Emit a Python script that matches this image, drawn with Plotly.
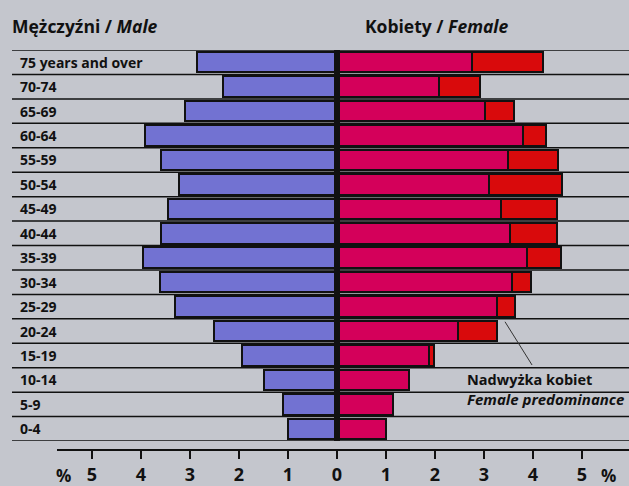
import plotly.graph_objects as go

# ---- data (percent of population) ----
age_groups = ["0-4", "5-9", "10-14", "15-19", "20-24", "25-29", "30-34", "35-39",
              "40-44", "45-49", "50-54", "55-59", "60-64", "65-69", "70-74",
              "75 years and over"]
male = [1.00, 1.10, 1.49, 1.94, 2.51, 3.31, 3.61, 3.96,
        3.59, 3.45, 3.22, 3.60, 3.92, 3.10, 2.33, 2.86]
female = [1.00, 1.14, 1.46, 1.98, 3.26, 3.64, 3.95, 4.57,
          4.49, 4.48, 4.59, 4.51, 4.27, 3.61, 2.92, 4.20]
female_excess = [0.00, 0.00, 0.00, 0.10, 0.79, 0.38, 0.38, 0.70,
                 0.95, 1.14, 1.49, 1.02, 0.48, 0.59, 0.84, 1.45]
x_ticks = [-5, -4, -3, -2, -1, 0, 1, 2, 3, 4, 5]
x_tick_text = ["5", "4", "3", "2", "1", "0", "1", "2", "3", "4", "5"]

female_base = [round(f - e, 2) for f, e in zip(female, female_excess)]
rows = list(range(len(age_groups)))

BG = "#c4c6cd"
BLUE = "#7272d2"
PINK = "#d4005a"
RED = "#d90a0c"
INK = "#111111"
FONT = "Open Sans"

fig = go.Figure()
fig.add_trace(go.Bar(y=rows, x=[-m for m in male], base=0, orientation="h",
                     width=0.84, marker=dict(color=BLUE, line=dict(color=INK, width=2)),
                     showlegend=False, hoverinfo="skip"))
fig.add_trace(go.Bar(y=rows, x=female_base, base=0, orientation="h",
                     width=0.84, marker=dict(color=PINK, line=dict(color=INK, width=2)),
                     showlegend=False, hoverinfo="skip"))
fig.add_trace(go.Bar(y=rows, x=female_excess, base=female_base, orientation="h",
                     width=0.84, marker=dict(color=RED, line=dict(color=INK, width=2)),
                     showlegend=False, hoverinfo="skip"))

W, H = 629, 486
px_per_unit = 49.0
zero_px = 337.0
x_range = [-zero_px / px_per_unit, (W - zero_px) / px_per_unit]

# row separator lines
for k in range(len(age_groups) + 1):
    fig.add_shape(type="line", xref="x", yref="y",
                  x0=(12 - zero_px) / px_per_unit, x1=x_range[1],
                  y0=k - 0.5, y1=k - 0.5, line=dict(color=INK, width=1.5), layer="below")

# centre line
fig.add_shape(type="line", xref="x", yref="y", x0=0, x1=0, y0=-0.5, y1=len(age_groups) - 0.5,
              line=dict(color=INK, width=6), layer="above")

# bottom axis line
fig.add_shape(type="line", xref="x", yref="paper", x0=(57 - zero_px) / px_per_unit, x1=x_range[1],
              y0=0, y1=0, line=dict(color=INK, width=2))

fig.update_layout(
    width=W, height=H,
    margin=dict(l=0, r=0, t=50, b=34),
    paper_bgcolor=BG, plot_bgcolor=BG,
    barmode="overlay", bargap=0,
    font=dict(family=FONT, color=INK),
    xaxis=dict(range=x_range, tickvals=x_ticks, ticktext=x_tick_text,
               ticks="outside", ticklen=8, tickwidth=2, tickcolor=INK,
               showgrid=False, zeroline=False, showline=False,
               anchor="free", position=0,
               tickfont=dict(family=FONT, size=18, color=INK, weight="bold")),
    yaxis=dict(range=[-0.5, len(age_groups) - 0.5], domain=[0.0224, 1],
               showticklabels=False, ticks="",
               showgrid=False, zeroline=False, showline=False),
)

annotations = [
    dict(text="<b>Mężczyźni / <i>Male</i></b>", xref="paper", yref="paper",
         x=10 / W, y=1, yshift=24, xanchor="left", yanchor="middle",
         showarrow=False, font=dict(size=17.5, family=FONT, color=INK)),
    dict(text="<b>Kobiety / <i>Female</i></b>", xref="paper", yref="paper",
         x=363 / W, y=1, yshift=24, xanchor="left", yanchor="middle",
         showarrow=False, font=dict(size=17.5, family=FONT, color=INK)),
    dict(text="<b>%</b>", xref="x", yref="paper", x=(63 - zero_px) / px_per_unit, y=0,
         yshift=-25, xanchor="center", yanchor="middle", showarrow=False,
         font=dict(size=17, family=FONT, color=INK)),
    dict(text="<b>%</b>", xref="x", yref="paper", x=(608 - zero_px) / px_per_unit, y=0,
         yshift=-25, xanchor="center", yanchor="middle", showarrow=False,
         font=dict(size=17, family=FONT, color=INK)),
    dict(text="", xref="x", yref="y", x=(505 - zero_px) / px_per_unit, y=4.38,
         axref="x", ayref="y", ax=(533 - zero_px) / px_per_unit, ay=2.55,
         showarrow=True, arrowhead=0, arrowwidth=1, arrowcolor="#333333"),
    dict(text="<b>Nadwyżka kobiet</b>", xref="x", yref="y",
         x=(465 - zero_px) / px_per_unit, y=2.0, xanchor="left", yanchor="middle",
         showarrow=False, font=dict(size=14.5, family=FONT, color=INK)),
    dict(text="<b><i>Female predominance</i></b>", xref="x", yref="y",
         x=(465 - zero_px) / px_per_unit, y=1.2, xanchor="left", yanchor="middle",
         showarrow=False, font=dict(size=15, family=FONT, color=INK)),
]
# age-group labels, left-aligned inside the rows
for r, label in zip(rows, age_groups):
    annotations.append(dict(text=f"<b>{label}</b>", xref="paper", yref="y",
                            x=18 / W, y=r, xanchor="left", yanchor="middle",
                            showarrow=False, font=dict(size=14, family=FONT, color=INK)))
fig.update_layout(annotations=annotations)

fig.write_html("out.html", config={"displayModeBar": False},
               post_script="document.body.style.margin='0';")
